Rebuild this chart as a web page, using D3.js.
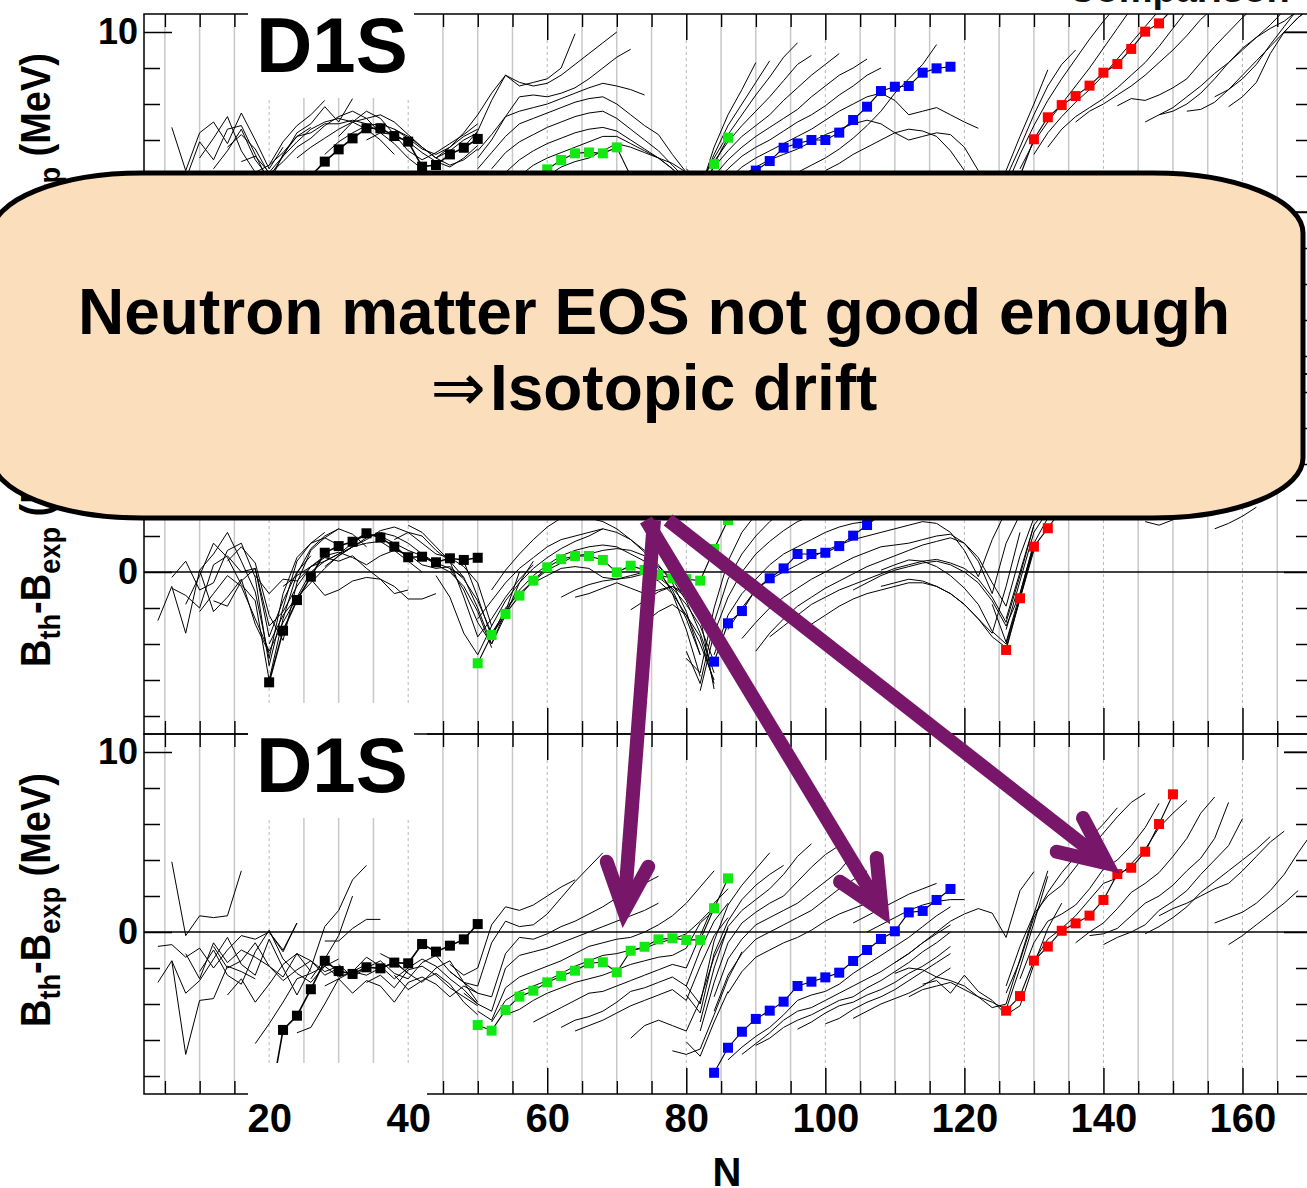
<!DOCTYPE html>
<html><head><meta charset="utf-8">
<script src="https://cdn.jsdelivr.net/npm/d3@7"></script>
<style>
body{margin:0;background:#fff}
svg{display:block}
text{font-family:"Liberation Sans",Arial,Helvetica,sans-serif;font-weight:bold}
</style>
</head><body>
<svg id="chart" width="1307" height="1188"></svg>
<script>
// ---- Axis settings ----
const nDomain = [2, 170];
const vDomain = [-9, 11];
const xTickLabels = [20, 40, 60, 80, 100, 120, 140, 160];
const yTickLabels = [0, 10];
const panelName = "D1S";

// ---- Highlighted isotopic chains: first N of each, step 2 ----
const seriesStart = {black: 20, green: 50, blue: 84, red: 126};
const seriesColor = {black: "#000000", green: "#12e812", blue: "#0000ff", red: "#ff0000"};

// top panel
const blackTop = [-1.0, 0.6, 1.4, 2.0, 2.8, 3.48, 4.09, 4.65, 4.65, 4.22, 3.91, 2.52, 2.61, 3.2, 3.57, 4.06];
const greenTop = [-2.0, -0.5, 0.6, 1.3, 1.9, 2.37, 2.89, 3.26, 3.31, 3.26, 3.59, 2.0, 1.9, 1.7, 1.4, 1.2, 0.5, 2.67, 4.13];
const blueTop  = [-0.5, 1.0, 1.8, 2.3, 2.83, 3.57, 3.81, 4.0, 4.0, 4.41, 5.11, 5.85, 6.72, 6.96, 7.0, 7.74, 7.98, 8.07];
const redTop   = [-0.5, 2.0, 4.04, 5.26, 5.94, 6.44, 7.02, 7.74, 8.22, 9.06, 10.02, 10.48, 11.3];

// middle panel
const blackMid = [-6.13, -3.26, -1.56, -0.26, 1.07, 1.44, 1.68, 2.15, 1.91, 1.41, 0.82, 0.85, 0.54, 0.76, 0.67, 0.79];
const greenMid = [-5.07, -3.5, -2.33, -1.31, -0.48, 0.26, 0.71, 0.89, 0.89, 0.67, -0.02, 0.35, 0.11, -0.17, -0.35, -0.4, -0.48, 1.28, 2.89];
const blueMid  = [-4.98, -2.85, -2.17, -0.96, -0.35, 0.2, 1.0, 1.0, 1.07, 1.44, 2.02, 2.61, 3.2, 3.6, 4.0, 4.5, 5.0, 5.3];
const redMid   = [-4.33, -1.46, 1.41, 2.43, 3.5, 4.2, 5.0, 5.8, 6.5, 7.2, 7.9, 8.6, 9.3];

// bottom panel
const blackBot = [-9.8, -5.44, -4.65, -3.18, -1.6, -2.17, -2.33, -1.96, -2.02, -1.7, -1.74, -0.67, -1.09, -0.76, -0.41, 0.44];
const greenBot = [-5.17, -5.48, -4.33, -3.59, -3.26, -2.8, -2.44, -2.15, -1.74, -1.68, -2.24, -1.04, -0.82, -0.41, -0.35, -0.44, -0.44, 1.32, 2.98];
const blueBot  = [-7.82, -6.43, -5.54, -4.83, -4.37, -3.87, -3.0, -2.76, -2.52, -2.26, -1.61, -1.0, -0.39, 0.04, 1.09, 1.17, 1.78, 2.39];
const redBot   = [-4.37, -3.56, -1.59, -0.81, 0.07, 0.48, 0.91, 1.78, 3.22, 3.57, 4.46, 6.0, 7.65];

// ---- Other isotopic chains: [first N, values every 2 N] ----
const chainsTop = [
  [6, [4.7, 2.3, 4.4, 5.0, 3.8, 5.5, 4.0, 2.4, 3.6]],
  [8, [1.8, 3.9, 2.9, 4.6, 4.8, 3.2, 1.6, 3.2, 4.2, 4.7]],
  [10, [3.0, 4.1, 5.3, 3.4, 2.2, 2.6, 3.9, 4.8, 5.4, 6.2]],
  [12, [2.4, 3.4, 4.6, 2.9, 1.9, 3.1, 4.4, 4.9, 5.85, 5.0, 6.3]],
  [14, [3.6, 4.3, 3.5, 2.1, 2.8, 3.6, 4.1, 4.8, 5.3, 5.6, 5.2, 4.4]],
  [16, [2.8, 3.1, 2.2, 3.1, 3.9, 4.6, 5.0, 5.2, 5.0, 4.6, 4.0, 3.2]],
  [20, [2.6, 3.3, 4.2, 4.4, 4.9, 4.9, 5.1, 4.9, 4.4, 3.8, 3.0, 2.4]],
  [24, [3.0, 3.6, 4.1, 4.6, 5.0, 5.2, 5.4, 5.0, 4.3, 3.6, 3.0, 3.4, 4.0, 4.4]],
  [28, [3.2, 3.9, 4.4, 4.8, 4.9, 4.6, 4.1, 3.5, 3.2, 3.6, 4.2, 4.6]],
  [30, [4.2, 5.0, 5.6, 5.2, 4.3, 3.4, 2.9, 3.3, 3.8, 4.3, 4.9]],
  [34, [4.0, 4.4, 4.3, 3.9, 3.3, 2.8, 2.5, 3.0, 3.7]],
  [38, [4.6, 4.2, 3.6, 3.0, 2.6, 2.9, 3.5]],
  [44, [3.0, 3.6, 4.4, 5.4, 6.6, 7.6, 7.0, 7.2, 7.4, 8.0, 9.9]],
  [48, [3.6, 4.5, 6.2, 7.6, 7.2, 7.0, 7.15, 7.6, 8.2, 8.8, 9.4, 10.0]],
  [50, [3.0, 4.0, 5.3, 6.4, 6.5, 6.4, 6.6, 6.9, 7.4, 8.0, 8.6, 9.04]],
  [50, [3.4, 4.3, 5.3, 5.6, 5.8, 6.0, 6.3, 6.6, 6.9, 7.15, 7.0, 6.8, 6.5]],
  [50, [2.4, 3.3, 4.2, 4.9, 5.2, 5.5, 5.8, 6.1, 6.3, 6.4, 6.0, 5.4, 4.8, 4.3, 3.2, 2.2]],
  [52, [2.4, 3.3, 3.9, 4.3, 4.7, 5.0, 5.3, 5.5, 5.6, 5.2, 4.6, 4.0, 3.4, 2.6, 1.8]],
  [54, [2.2, 2.9, 3.4, 3.8, 4.1, 4.4, 4.6, 4.7, 4.5, 4.0, 3.5, 3.0, 2.4, 1.6]],
  [56, [2.0, 2.6, 3.0, 3.3, 3.6, 3.9, 4.2, 4.2, 3.8, 3.4, 3.0, 2.4, 1.6]],
  [60, [2.0, 2.5, 2.8, 3.0, 3.4, 3.8, 3.6, 3.3, 3.0, 2.7, 2.2, 1.4]],
  [80, [2.0, 1.2, 3.6, 5.4, 6.8, 8.3]],
  [80, [2.2, 1.4, 3.2, 4.8, 6.0, 7.2, 8.4]],
  [80, [2.4, 1.6, 3.0, 4.3, 5.4, 6.5, 7.5, 8.6, 9.4]],
  [82, [1.8, 2.8, 3.9, 4.8, 5.6, 6.4, 7.3, 8.2, 8.7]],
  [82, [1.4, 2.5, 3.4, 4.2, 4.8, 5.4, 6.2, 6.9, 7.6, 8.2, 8.8]],
  [84, [2.0, 2.9, 3.6, 4.2, 4.7, 5.2, 5.7, 6.4, 7.0, 7.6, 8.0, 8.5]],
  [84, [1.6, 2.4, 3.1, 3.6, 4.0, 4.5, 5.0, 5.4, 5.9, 6.5, 7.0, 7.6, 8.0]],
  [86, [1.8, 2.5, 3.0, 3.4, 3.8, 4.2, 4.6, 5.1, 5.6, 6.0, 6.4, 6.6, 6.2, 5.4, 5.6, 5.8, 5.4, 5.0, 4.65]],
  [88, [2.0, 2.5, 2.9, 3.2, 3.5, 3.9, 4.3, 4.6, 4.9, 5.1, 4.9, 4.4, 4.0, 4.2, 4.4, 4.3, 3.6, 2.3]],
  [96, [2.2, 2.6, 3.0, 3.5, 4.1, 4.8, 5.6, 6.6, 7.4, 8.2, 9.3]],
  [100, [2.3, 2.7, 3.2, 3.6, 4.0, 4.4, 4.6, 4.5, 4.2, 3.4, 2.3]],
  [124, [1.0, 2.3, 4.2, 6.0, 7.9]],
  [124, [0.6, 1.9, 3.6, 5.4, 7.0, 8.2, 9.0]],
  [126, [1.4, 3.2, 4.8, 6.2, 7.4, 8.5, 9.6, 10.6, 11.5]],
  [128, [2.4, 3.9, 5.0, 6.0, 7.0, 8.0, 9.1, 10.2, 11.3]],
  [130, [3.2, 4.4, 5.3, 6.1, 6.8, 7.6, 8.5, 9.4, 10.3, 11.2]],
  [132, [3.6, 4.6, 5.3, 5.8, 6.3, 6.9, 7.6, 8.3, 9.2, 10.2, 11.2]],
  [136, [5.0, 5.6, 6.0, 6.5, 7.0, 7.6, 8.3, 9.0, 9.8, 10.7, 11.4]],
  [142, [5.9, 6.3, 6.2, 6.5, 6.9, 7.4, 8.3, 9.2, 10.0, 10.8, 11.5]],
  [146, [5.0, 5.4, 5.8, 6.4, 7.0, 7.7, 8.3, 9.0, 9.7, 10.4, 11.2]],
  [148, [5.4, 5.6, 6.0, 6.6, 7.4, 8.3, 9.1, 9.7, 10.2, 10.6, 11.2]],
  [152, [5.6, 5.7, 6.1, 6.8, 7.6, 8.4, 9.2, 10.0, 10.8, 11.4]],
  [156, [6.4, 6.8, 7.4, 8.2, 9.3, 10.3, 11.3]],
  [158, [5.85, 6.4, 7.2, 8.8, 10.0, 10.8, 11.4]],
  [166, [10.0, 10.0, 10.0]]
];

const chainsMid = [
  [4, [-2.7, -0.8, -3.4, 0.1, -2.2, -1.4, -0.4, -2.9, -4.5]],
  [6, [-0.9, -1.3, -2.0, 0.4, 0.9, 0.0, 0.2, -3.6, -1.6, 0.0, 0.9]],
  [6, [-0.3, 0.6, -1.0, -0.6, 1.2, 1.6, -0.3, -5.2, -2.0, 0.6, 1.6, 2.2]],
  [8, [-1.8, -0.2, 1.6, 0.8, -0.7, -1.6, -6.0, -2.6, -0.1, 1.3, 2.0, 2.4]],
  [10, [0.1, 1.0, 2.2, 0.6, -1.1, -4.8, -1.2, 0.8, 1.6, 1.9, 1.5]],
  [10, [-2.2, -1.2, -0.2, -0.8, -2.6, -4.4, -2.8, -1.4, 0.0, 0.6, 1.0]],
  [12, [-1.6, -1.9, -0.5, 0.2, -3.0, -2.2, -0.8, 0.3, 0.9, 1.1, 0.8, 0.4]],
  [14, [0.6, 1.4, 0.5, -2.4, -3.8, -0.6, 1.2, 1.9, 2.4, 2.1, 1.4]],
  [18, [-0.2, -1.2, -0.4, -0.5, 0.3, 0.8, 0.6, 0.9, 0.2, -0.4, -1.2, -1.0]],
  [20, [-4.0, -2.4, -1.4, -0.6, 0.2, 0.9, 1.4, 1.6, 1.7, 1.2, 0.6, 0.0]],
  [22, [-0.8, -0.2, 0.3, 0.6, 1.0, 1.4, 1.9, 2.2, 2.0, 1.6, 1.0, 0.5, 0.2, -0.3]],
  [26, [-0.4, -1.3, -1.0, -0.5, -0.3, -0.4, -0.8, -1.5, -1.5, -1.2]],
  [28, [0.3, 0.9, 1.4, 1.8, 2.3, 2.5, 2.2, 1.6, 1.0, 0.8, 0.3, -0.6, -3.0]],
  [30, [1.0, 1.6, 2.1, 2.0, 1.6, 1.2, 0.9, 0.4, 0.0, -0.8, -2.2, -4.2]],
  [34, [0.4, 0.9, 1.2, 1.0, 0.4, 0.2, 0.3, -0.4, -1.6, -3.4, -2.2, 0.0]],
  [38, [1.8, 2.2, 2.0, 1.2, 0.6, -0.3, -2.0, -4.0, -2.4, -0.6, 0.6]],
  [40, [2.6, 2.2, 1.4, 0.6, -1.4, -3.6, -2.6, -1.4, -0.4, 0.4]],
  [44, [-0.2, -1.4, -3.4, -4.6, -3.0, -1.6, -0.6, 0.2, 0.8, 1.3, 1.7, 2.0, 2.4]],
  [46, [0.2, -1.0, -2.8, -4.0, -2.2, -1.0, -0.2, 0.4, 0.9, 1.2, 1.4, 1.5, 1.4, 1.0, 0.6, 0.0, -1.0, -2.6, -4.6]],
  [48, [0.6, -1.4, -3.6, -2.0, -1.2, -0.5, 0.1, 0.5, 0.9, 1.0, 1.2, 1.3, 1.2, 0.9, 0.3, -0.4, -1.6, -3.4, -5.6]],
  [50, [-2.6, -1.6, -0.6, 0.2, 0.8, 1.4, 1.8, 2.0, 2.2, 2.4, 2.2, 1.8, 1.2, 0.4, -0.6, -2.2, -4.6]],
  [52, [-1.0, 0.1, 1.0, 1.8, 2.5, 3.0, 3.2, 3.0, 2.8, 2.4, 1.8, 1.1, 0.2, -1.2, -3.2, -5.8]],
  [58, [-0.6, -0.2, 0.2, 0.3, 0.2, -0.3, -0.4, -0.3, -0.1, -0.5, -1.2, -2.4, -4.0, -6.0]],
  [62, [-1.4, -1.0, -0.7, -0.5, -0.4, -0.2, 0.0, -0.3, -0.9, -1.8, -3.0, -5.0]],
  [64, [-1.4, -1.2, -0.9, -0.6, -0.9, -1.2, -1.0, -0.8, -1.4, -2.5, -6.5]],
  [72, [-2.1, -1.6, -1.1, -0.8, -1.2, -2.4, -4.0]],
  [74, [-2.8, -2.2, -1.8, -2.4, -3.6, -6.2]],
  [80, [-4.8, -5.6, -2.0, 0.6, 2.2, 3.2]],
  [80, [-4.4, -6.2, -2.8, -0.4, 1.0, 2.0, 2.8, 3.4]],
  [82, [-6.6, -3.4, -1.4, 0.0, 1.0, 1.7, 2.3, 2.8, 3.1]],
  [84, [-4.6, -2.4, -1.2, -0.4, 0.4, 1.0, 1.4, 1.8, 2.2, 2.5, 2.7, 2.8]],
  [86, [-3.2, -2.0, -1.0, -0.4, 0.0, 0.4, 0.8, 1.2, 1.5, 1.8, 2.0, 2.2, 2.4, 2.6, 2.8, 2.7, 2.2, 1.2, -0.26, 1.8, 3.4]],
  [88, [-3.7, -2.8, -2.0, -1.4, -0.9, -0.4, 0.0, 0.4, 0.8, 1.1, 1.4, 1.5, 1.6, 1.8, 2.0, 2.1, 1.6, 0.6, -1.2, 1.6, 3.2]],
  [90, [-4.4, -3.4, -2.6, -1.9, -1.4, -0.9, -0.5, -0.1, 0.3, 0.6, 0.9, 1.2, 1.5, 1.7, 1.9, 1.6, 0.8, -0.6, -1.9, 0.9, 3.0]],
  [92, [-3.6, -3.0, -2.4, -1.8, -1.4, -1.0, -0.7, -0.4, -0.1, 0.2, 0.4, 0.6, 0.7, 0.5, 0.2, -0.4, -1.4, -2.8, -0.2, 2.6]],
  [98, [-2.9, -2.4, -1.9, -1.5, -1.2, -1.0, -0.8, -0.6, -0.6, -0.8, -1.2, -1.8, -2.6, -3.4, -0.8, 2.2]],
  [104, [-1.0, -0.6, -0.2, 0.1, 0.3, 0.5, 0.6, 0.4, 0.0, -0.6, -1.6, -3.0, -1.2, 1.6]],
  [108, [0.1, 0.4, 0.67, 0.6, 0.3, -0.2, -0.9, -1.8, -3.3, -4.0, -1.4, 1.4]],
  [108, [-0.8, -0.6, -0.4, -0.5, -0.8, -1.2, -1.8, -2.6, -3.6, -4.2, -1.5, 1.2]],
  [124, [-1.8, -3.9, -1.2, 1.6, 3.0]],
  [126, [-3.2, -0.5, 2.2, 3.4]],
  [126, [-2.6, 0.0, 2.6, 3.6]],
  [146, [2.8, 2.6, 2.9, 3.2]],
  [156, [2.4, 2.7, 3.1, 3.6]]
];

const chainsBot = [
  [4, [-2.8, -1.6, -6.8, -3.8, -3.7, -1.9, -2.2, -2.6]],
  [6, [3.9, -0.2, 0.9, 0.8, 0.9, 3.4]],
  [4, [-0.8, -0.7, -1.4, -0.9, -2.0, -1.0, -0.2, -0.4, 0.0, -1.1, 0.5]],
  [6, [-1.6, -3.4, -2.7, -1.5, -0.3, -1.8, -2.4, -0.4, -2.0, -3.5, -2.0]],
  [8, [-1.2, -2.6, -0.6, -1.7, -1.0, -1.4, -1.9, -2.5, -1.2, -2.2]],
  [10, [-2.2, -1.0, -2.4, -2.9, -1.1, 0.1, -1.5, -2.3, -2.8, -1.9, -1.5]],
  [12, [-0.8, -2.0, -1.6, -0.6, -1.9, -2.7, -2.1, -1.6, -2.4, -2.0]],
  [14, [-3.5, -2.6, -3.9, -2.9, -1.8, -1.2, -1.6, -2.2, -1.9]],
  [18, [-6.2, -5.1, -3.9, -2.6, -2.3, -1.9, -2.5, -2.2, -1.8]],
  [20, [0.0, -1.0, 0.5]],
  [24, [-5.6, -5.3, -4.0, -2.6, -2.2, -2.4, -2.0, -1.7, -2.3]],
  [26, [-2.0, 0.3, 1.2, 2.9, 3.7]],
  [26, [-2.6, -1.5, -0.2, 2.0]],
  [28, [-0.5, -0.5, 0.2, 0.7, 0.7]],
  [28, [-3.0, -2.6, -3.4, -2.7, -3.0, -3.9, -2.8, -2.5, -2.9, -3.6, -3.0]],
  [30, [-1.8, -2.5, -2.0, -1.6, -2.3, -2.6, -1.7, -1.3, -2.2, -2.8, -3.4]],
  [32, [-2.2, -1.4, -1.9, -2.6, -2.0, -1.5, -1.9, -2.6, -3.2, -4.0]],
  [34, [-2.8, -2.4, -3.1, -2.1, -1.9, -2.4, -3.1, -3.6, -4.1]],
  [36, [-1.2, -1.6, -2.3, -2.8, -2.0, -1.6, -2.8, -3.9]],
  [38, [-2.4, -3.2, -2.7, -2.3, -2.9, -3.9, -4.6]],
  [46, [-1.8, -2.4, -2.0, 0.4, 1.4, 1.2, 1.5, 2.0, 2.5, 2.9]],
  [46, [-2.2, -2.8, -3.0, -0.6, 0.6, 0.3, 0.4, 1.0, 1.9, 2.8, 3.6, 4.4]],
  [48, [-3.0, -3.4, -3.6, -1.2, -0.3, -0.4, -0.1, 0.3, 0.6, 1.0, 1.4, 1.9, 2.3, 2.7, 3.1]],
  [48, [-3.4, -4.0, -4.4, -2.0, -1.3, -1.1, -0.9, -0.6, -0.3, 0.0, 0.3, 0.6, 0.9, 1.2, 1.6]],
  [50, [-4.4, -4.9, -3.1, -2.5, -2.2, -1.9, -1.6, -1.2, -0.8, -0.6, -0.4, -0.3, 0.0, 0.4, 0.9, 1.6, 2.5, 3.4]],
  [52, [-5.0, -3.8, -3.3, -3.0, -2.7, -2.3, -1.9, -1.6, -1.3, -1.2, -1.0, -0.9, -0.6, -0.4, -0.1, 0.6, 1.4]],
  [54, [-4.6, -4.3, -3.8, -3.4, -3.1, -2.8, -2.6, -2.4, -2.1, -1.8, -1.6, -1.4, -1.3, -0.9, 0.5, 1.2]],
  [58, [-5.0, -4.6, -4.2, -3.8, -3.4, -3.3, -3.0, -2.7, -2.4, -2.1, -1.8, -2.0, -0.2, 1.6, 2.4]],
  [62, [-5.3, -4.9, -4.7, -4.4, -3.9, -3.3, -3.1, -2.8, -2.5, -3.0, -1.0, 0.6, 1.6]],
  [64, [-5.5, -5.2, -4.9, -4.5, -4.1, -3.8, -3.5, -3.2, -3.8, -1.9, -0.2, 0.8]],
  [72, [-5.9, -5.2, -4.9, -5.2, -5.5, -3.8, -1.4, 0.2]],
  [78, [-6.6, -6.8, -6.5, -4.6, -2.6, -1.1]],
  [80, [-6.1, -6.9, -5.0, -3.3]],
  [80, [-3.0, -4.0, -0.5, 1.5, 2.6, 3.5, 4.4]],
  [80, [-3.5, -4.5, -1.2, 0.6, 1.8, 2.6, 3.2, 3.7]],
  [82, [-5.0, -2.0, 0.3, 1.2, 1.8, 2.4, 3.2, 4.2, 4.9]],
  [82, [-5.5, -2.8, -0.6, 0.5, 1.1, 1.6, 2.0, 2.8, 3.6, 4.3, 4.8]],
  [84, [-3.6, -1.5, -0.4, 0.4, 0.8, 1.2, 1.6, 2.2, 2.8, 3.4, 4.3]],
  [84, [-4.4, -2.4, -1.2, -0.4, 0.0, 0.4, 0.8, 1.2, 1.8, 2.4, 2.9, 3.4]],
  [86, [-3.4, -2.2, -1.4, -1.0, -0.6, -0.3, 0.1, 0.6, 1.0, 1.3, 1.6, 1.8]],
  [86, [-7.1, -6.4, -5.8, -5.3, -4.6, -3.8, -3.5, -3.3, -2.9, -2.3, -1.8, -1.3, -0.8, -0.3, 0.3, 0.9, 1.4]],
  [88, [-6.8, -6.2, -5.6, -4.9, -4.4, -4.2, -3.8, -3.4, -3.0, -2.6, -2.2, -1.7, -1.2, -0.6, -0.1, 0.4]],
  [90, [-6.3, -5.9, -5.3, -4.9, -4.6, -4.2, -3.8, -3.6, -3.1, -2.7, -2.2, -1.7, -1.1, -0.6, 0.0]],
  [96, [-5.4, -5.0, -4.5, -4.1, -3.9, -3.5, -3.2, -2.8, -2.3, -1.9, -1.4, -0.8]],
  [100, [-5.1, -4.8, -4.3, -3.9, -3.6, -3.2, -2.7, -2.2, -1.7, -1.2]],
  [104, [-4.8, -4.4, -4.0, -3.7, -3.4, -3.0, -2.5, -2.0]],
  [110, [-2.3, -2.0, -2.1, -2.5, -2.7, -3.0, -3.6, -3.9, -4.3, -2.0, 0.5, 3.1]],
  [112, [-3.6, -3.2, -3.0, -2.8, -3.2, -3.6, -4.2, -4.0, -1.5, 1.0, 3.4]],
  [114, [-2.9, -2.7, -3.4, -2.4, -3.3, -3.8, -4.6, -4.1, -1.8, 0.2, 1.6]],
  [110, [-1.7, -1.2, -0.6, 0.0, 0.6, 1.0, 1.3, 1.05, -0.3, 2.3, 3.35]],
  [104, [0.5, 0.9, 1.3, 1.7, 2.1, 2.4, 2.7]],
  [106, [0.0, 0.4, 0.8, 1.2, 1.5, 1.7, 1.8, 1.8]],
  [126, [-3.4, -1.6, 0.8, 2.2, 3.3, 4.2, 5.2, 6.0, 6.9]],
  [126, [-3.0, -0.8, 1.0, 2.0, 2.6, 3.6, 4.6, 5.5, 6.4, 7.2, 7.7]],
  [128, [-2.6, -0.6, 0.6, 1.0, 1.5, 2.4, 3.5, 4.0, 4.8, 5.8, 7.15]],
  [130, [-1.6, -0.4, 0.2, 0.9, 1.8, 2.7, 3.0, 3.8, 4.6, 5.8, 6.6, 7.3]],
  [136, [-0.6, 0.0, 0.5, 1.3, 2.2, 2.7, 3.3, 4.2, 5.2, 6.6, 7.5]],
  [138, [-0.2, -0.1, 0.2, 0.9, 1.6, 2.0, 2.6, 3.4, 4.1, 5.2, 7.2]],
  [140, [-0.7, -0.3, 0.0, 0.4, 1.2, 1.7, 2.3, 3.2, 4.0, 4.8, 6.3]],
  [146, [-0.1, 0.3, 0.8, 1.4, 2.2, 2.8, 3.4, 4.0, 4.6, 5.3]],
  [148, [0.9, 1.3, 1.6, 2.0, 2.4, 2.7, 3.4, 4.2, 5.0, 5.6]],
  [156, [0.5, 0.8, 1.1, 1.6, 2.3, 3.2, 4.4, 5.5]],
  [158, [-0.7, -0.2, 0.4, 1.0, 1.6, 2.3]],
  [166, [10.0, 10.0, 10.0]]
];

// ---- Layout ----
const svg = d3.select("#chart");
const x = d3.scaleLinear().domain(nDomain).range([144, 1312]);
const panelH = 360;

const panels = [
  {top: 14,  chains: chainsTop, series: {black: blackTop, green: greenTop, blue: blueTop, red: redTop}},
  {top: 374, chains: chainsMid, series: {black: blackMid, green: greenMid, blue: blueMid, red: redMid}},
  {top: 734, chains: chainsBot, series: {black: blackBot, green: greenBot, blue: blueBot, red: redBot}}
];

const gridN = d3.range(5, 170, 5);
const minorN = gridN.filter(n => n % 20 !== 0);
const majorN = gridN.filter(n => n % 20 === 0);

panels.forEach((p, i) => {
  const top = p.top, bot = top + panelH;
  const y = d3.scaleLinear().domain(vDomain).range([bot, top]);
  const g = svg.append("g");

  const clipId = "clip" + i;
  svg.append("clipPath").attr("id", clipId)
    .append("rect").attr("x", x(nDomain[0])).attr("y", top)
    .attr("width", x(nDomain[1]) - x(nDomain[0])).attr("height", panelH);

  // vertical guide lines every 5 in N
  g.selectAll(".grid").data(gridN).join("line")
    .attr("x1", d => x(d)).attr("x2", d => x(d))
    .attr("y1", d => top + (d % 20 === 0 ? 26 : 13))
    .attr("y2", d => bot - (d % 20 === 0 ? 26 : 13))
    .attr("stroke", d => d % 20 === 0 ? "#b8b8b8" : "#c8c8c8")
    .attr("stroke-width", d => d % 20 === 0 ? 1 : 1.5)
    .attr("stroke-dasharray", d => d % 20 === 0 ? "3,3" : null);

  // zero line
  g.append("line").attr("x1", x(nDomain[0])).attr("x2", x(nDomain[1]))
    .attr("y1", y(0)).attr("y2", y(0)).attr("stroke", "#000").attr("stroke-width", 1.3);

  const data = g.append("g").attr("clip-path", `url(#${clipId})`);
  const line = d3.line().x(d => x(d[0])).y(d => y(d[1]));

  // isotopic chains
  data.selectAll(".chain").data(p.chains).join("path")
    .attr("d", ([n0, vals]) => line(vals.map((v, k) => [n0 + 2 * k, v])))
    .attr("fill", "none").attr("stroke", "#000").attr("stroke-width", 1)
    .attr("stroke-linejoin", "round");

  // highlighted chains
  Object.keys(p.series).forEach(key => {
    const pts = p.series[key].map((v, k) => [seriesStart[key] + 2 * k, v]);
    data.append("path").attr("d", line(pts))
      .attr("fill", "none").attr("stroke", "#000").attr("stroke-width", key === "black" ? 1.6 : 1.1);
    data.selectAll(null).data(pts).join("rect")
      .attr("x", d => x(d[0]) - 5).attr("y", d => y(d[1]) - 5)
      .attr("width", 10).attr("height", 10)
      .attr("fill", seriesColor[key]);
  });

  // frame and ticks
  const axes = g.append("g").attr("stroke-width", 1.5);
  const tickStyle = sel => { sel.select(".domain").remove(); sel.selectAll("line").attr("stroke", "#000").attr("stroke-width", 1.5); sel.selectAll("text").remove(); };
  axes.append("g").attr("transform", `translate(0,${top})`)
    .call(d3.axisBottom(x).tickValues(minorN).tickSize(13)).call(tickStyle);
  axes.append("g").attr("transform", `translate(0,${top})`)
    .call(d3.axisBottom(x).tickValues(majorN).tickSize(26)).call(tickStyle);
  axes.append("g").attr("transform", `translate(0,${bot})`)
    .call(d3.axisTop(x).tickValues(minorN).tickSize(13)).call(tickStyle);
  axes.append("g").attr("transform", `translate(0,${bot})`)
    .call(d3.axisTop(x).tickValues(majorN).tickSize(26)).call(tickStyle);
  axes.append("g").attr("transform", `translate(${x(nDomain[0])},0)`)
    .call(d3.axisRight(y).tickValues([-8, -6, -4, -2, 2, 4, 6, 8]).tickSize(16)).call(tickStyle);
  axes.append("g").attr("transform", `translate(${x(nDomain[0])},0)`)
    .call(d3.axisRight(y).tickValues([0, 10]).tickSize(28)).call(tickStyle);
  axes.append("g").attr("transform", `translate(${x(nDomain[1])},0)`)
    .call(d3.axisLeft(y).tickValues([-8, -6, -4, -2, 2, 4, 6, 8]).tickSize(16)).call(tickStyle);
  axes.append("g").attr("transform", `translate(${x(nDomain[1])},0)`)
    .call(d3.axisLeft(y).tickValues([0, 10]).tickSize(28)).call(tickStyle);
  axes.append("rect").attr("x", x(nDomain[0])).attr("y", top)
    .attr("width", x(nDomain[1]) - x(nDomain[0])).attr("height", panelH)
    .attr("fill", "none").attr("stroke", "#000").attr("stroke-width", 1.5);

  // label boxes
  g.append("rect").attr("x", 248).attr("y", top - 1).attr("width", 166).attr("height", 85).attr("fill", "#fff");
  g.append("rect").attr("x", 248).attr("y", bot - 31).attr("width", 179).attr("height", 33).attr("fill", "#fff");
  g.append("text").attr("x", 256).attr("y", top + 58).attr("font-size", 78).attr("fill", "#000").text(panelName);

  // y tick labels
  const yl = g.append("g").attr("transform", `translate(${x(nDomain[0])},0)`)
    .call(d3.axisLeft(y).tickValues(yTickLabels).tickSize(0).tickPadding(6).tickFormat(d3.format("d")));
  yl.select(".domain").remove();
  yl.selectAll("text").attr("font-size", 36).attr("font-family", "Liberation Sans, Arial, sans-serif")
    .attr("font-weight", "bold").attr("fill", "#000");

  // y axis title
  const lab = g.append("text")
    .attr("transform", `translate(50,${top + 166}) rotate(-90)`)
    .attr("text-anchor", "middle").attr("font-size", 42).attr("fill", "#000")
    .attr("textLength", 254).attr("lengthAdjust", "spacingAndGlyphs");
  lab.append("tspan").text("B");
  lab.append("tspan").attr("dy", 10).attr("font-size", 30).text("th");
  lab.append("tspan").attr("dy", -10).text("-B");
  lab.append("tspan").attr("dy", 10).attr("font-size", 30).text("exp");
  lab.append("tspan").attr("dy", -10).text(" (MeV)");
});

// x tick labels and title under the bottom panel
const xl = svg.append("g").attr("transform", "translate(0,1094)")
  .call(d3.axisBottom(x).tickValues(xTickLabels).tickSize(0).tickPadding(10));
xl.select(".domain").remove();
xl.selectAll("text").attr("font-size", 40).attr("font-family", "Liberation Sans, Arial, sans-serif")
  .attr("font-weight", "bold").attr("fill", "#000");
svg.append("text").attr("x", 727).attr("y", 1186).attr("text-anchor", "middle")
  .attr("font-size", 40).attr("fill", "#000").text("N");

svg.append("text").attr("x", 1068).attr("y", 2).attr("font-size", 38).attr("fill", "#111").text("Comparison");

// callout box
svg.append("rect").attr("x", -8).attr("y", 173).attr("width", 1311).attr("height", 345)
  .attr("rx", 150).attr("ry", 60)
  .attr("fill", "#fbdebb").attr("stroke", "#000").attr("stroke-width", 5);
svg.append("text").attr("x", 654).attr("y", 334).attr("text-anchor", "middle")
  .attr("font-size", 64).attr("fill", "#000").text("Neutron matter EOS not good enough");
const t2 = svg.append("text").attr("x", 654).attr("y", 410).attr("text-anchor", "middle")
  .attr("font-size", 64).attr("fill", "#000");
t2.append("tspan").attr("font-weight", "normal").attr("font-family", "DejaVu Sans, sans-serif").attr("font-size", 66).text("\u21D2");
t2.append("tspan").attr("dx", 4).text("Isotopic drift");

// arrows
const arrows = [
  {from: [654, 520], tip: [624, 911], arms: [[606.7, 861.7], [648.3, 866.7]]},
  {from: [646, 520], tip: [881.7, 910], arms: [[876.7, 858], [840, 881.7]]},
  {from: [668, 520], tip: [1106.7, 863.3], arms: [[1083, 818], [1056.7, 851.7]]}
];
const ag = svg.append("g").attr("stroke", "#781669").attr("stroke-width", 14)
  .attr("stroke-linecap", "round").attr("fill", "none");
arrows.forEach(a => {
  ag.append("line").attr("x1", a.from[0]).attr("y1", a.from[1]).attr("x2", a.tip[0]).attr("y2", a.tip[1]).attr("stroke-linecap", "butt");
  ag.append("path").attr("d", `M${a.arms[0][0]},${a.arms[0][1]}L${a.tip[0]},${a.tip[1]}L${a.arms[1][0]},${a.arms[1][1]}`)
    .attr("stroke-linejoin", "miter");
});
</script>
</body></html>
